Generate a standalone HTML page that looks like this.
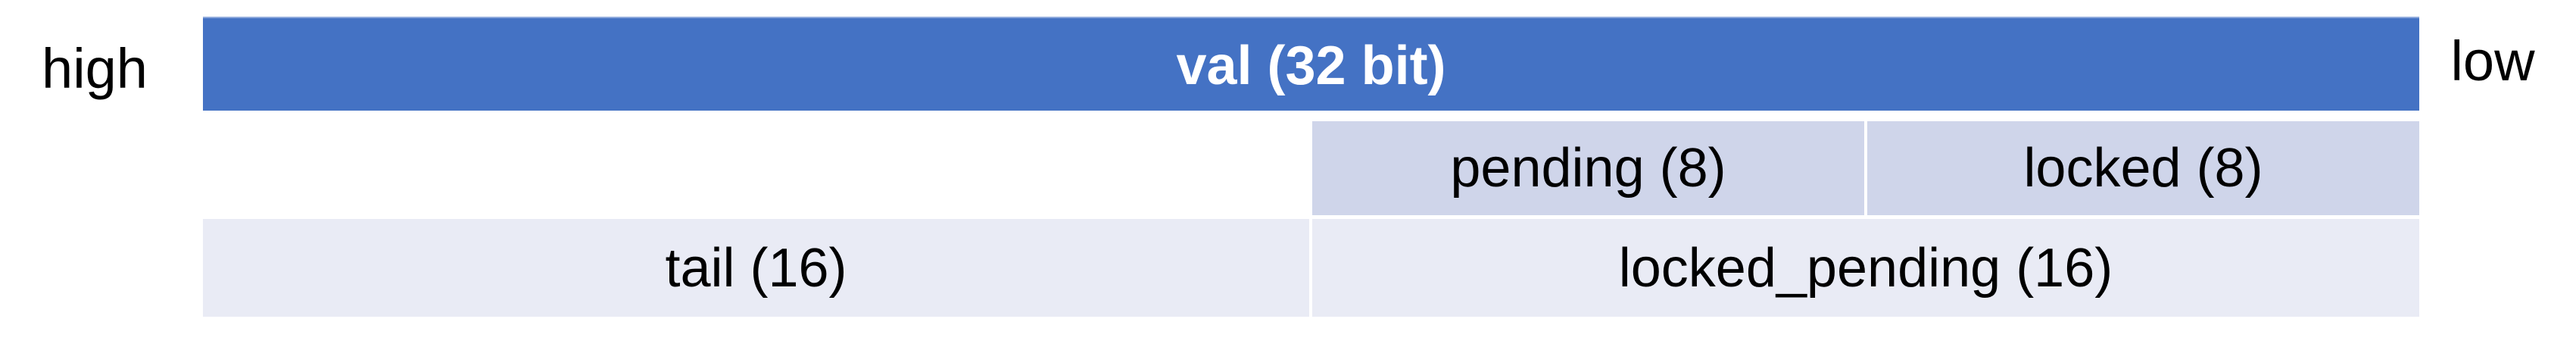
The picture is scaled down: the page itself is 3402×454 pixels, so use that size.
<!DOCTYPE html>
<html><head><meta charset="utf-8"><style>
html,body{margin:0;padding:0;background:#fff;}
body{width:3402px;height:454px;position:relative;overflow:hidden;font-family:"Liberation Sans",sans-serif;}
.b{position:absolute;display:flex;align-items:center;justify-content:center;font-size:72px;color:#000;box-sizing:border-box;}
</style></head><body>
<div class="b" style="left:268px;top:22px;width:2927px;height:124px;background:#4472C4;color:#fff;font-weight:bold;border-top:2px solid #8faadc;padding-top:4px;">val (32 bit)</div>
<div class="b" style="left:1733px;top:160px;width:729px;height:124px;background:#CFD5EA;">pending (8)</div>
<div class="b" style="left:2466px;top:160px;width:729px;height:124px;background:#CFD5EA;">locked (8)</div>
<div class="b" style="left:268px;top:289px;width:1461px;height:129px;background:#E9EBF5;">tail (16)</div>
<div class="b" style="left:1733px;top:289px;width:1462px;height:129px;background:#E9EBF5;">locked_pending (16)</div>
<div class="b" style="left:40px;top:40px;width:170px;height:100px;font-size:74px;">high</div>
<div class="b" style="left:3222px;top:30px;width:140px;height:100px;font-size:74px;">low</div>
</body></html>
